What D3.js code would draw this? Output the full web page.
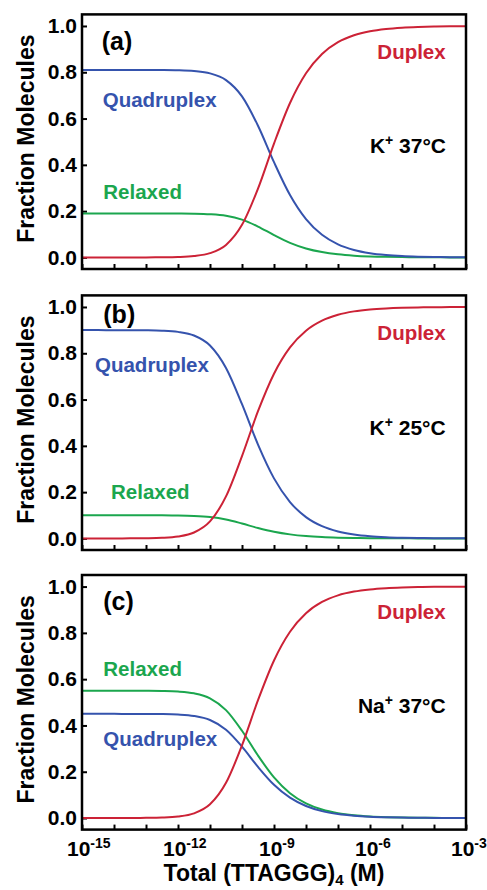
<!DOCTYPE html>
<html>
<head>
<meta charset="utf-8">
<script src="https://cdn.jsdelivr.net/npm/d3@7"></script>
<style>
  body { margin: 0; background: #fff; }
  svg text { font-family: "Liberation Sans", Arial, sans-serif; font-weight: bold; }
</style>
</head>
<body>
<div id="chart"></div>
<script>
// log10 of total (TTAGGG)4 concentration, M
const logConc = [-15, -14.5, -14, -13.5, -13, -12.5, -12, -11.5, -11, -10.5, -10, -9.5, -9,
                 -8.5, -8, -7.5, -7, -6.5, -6, -5.5, -5, -4.5, -4, -3.5, -3];

// (a) K+ 37°C
const duplexA  = [0, 0, 0, 0.0001, 0.0002, 0.0006, 0.0019, 0.0060, 0.0184, 0.0539, 0.1407, 0.2974, 0.4919,
                  0.6672, 0.7957, 0.8792, 0.9301, 0.9601, 0.9774, 0.9872, 0.9928, 0.9959, 0.9977, 0.9987, 0.9993];
const quadA    = [0.81, 0.81, 0.81, 0.81, 0.8098, 0.8095, 0.8085, 0.8051, 0.7951, 0.7663, 0.6960, 0.5691, 0.4116,
                  0.2696, 0.1655, 0.0978, 0.0566, 0.0323, 0.0183, 0.0104, 0.0058, 0.0033, 0.0019, 0.0011, 0.0006];
const relaxedA = [0.19, 0.19, 0.19, 0.19, 0.19, 0.1899, 0.1896, 0.1889, 0.1865, 0.1798, 0.1633, 0.1335, 0.0965,
                  0.0632, 0.0388, 0.0230, 0.0133, 0.0076, 0.0043, 0.0024, 0.0014, 0.0008, 0.0004, 0.0002, 0.0001];

// (b) K+ 25°C
const duplexB  = [0, 0, 0.0001, 0.0003, 0.0009, 0.0027, 0.0084, 0.0257, 0.0736, 0.1815, 0.3557, 0.5497, 0.7118,
                  0.8255, 0.8977, 0.9411, 0.9664, 0.9810, 0.9893, 0.9939, 0.9966, 0.9981, 0.9989, 0.9994, 0.9997];
const quadB    = [0.9, 0.9, 0.8999, 0.8997, 0.8992, 0.8976, 0.8924, 0.8769, 0.8338, 0.7367, 0.5799, 0.4053, 0.2594,
                  0.1571, 0.0921, 0.0530, 0.0302, 0.0171, 0.0096, 0.0055, 0.0031, 0.0017, 0.0010, 0.0005, 0.0003];
const relaxedB = [0.1, 0.1, 0.1, 0.1, 0.0999, 0.0997, 0.0992, 0.0974, 0.0926, 0.0819, 0.0644, 0.0450, 0.0288,
                  0.0175, 0.0102, 0.0059, 0.0034, 0.0019, 0.0011, 0.0006, 0.0003, 0.0002, 0.0001, 0.0001, 0];

// (c) Na+ 37°C
const duplexC  = [0, 0, 0.0001, 0.0002, 0.0007, 0.0021, 0.0066, 0.0203, 0.0592, 0.1520, 0.3143, 0.5092, 0.6808,
                  0.8049, 0.8849, 0.9335, 0.9621, 0.9785, 0.9878, 0.9931, 0.9961, 0.9978, 0.9988, 0.9993, 0.9996];
const quadC    = [0.45, 0.45, 0.45, 0.4499, 0.4497, 0.4491, 0.4470, 0.4409, 0.4234, 0.3816, 0.3086, 0.2209, 0.1436,
                  0.0878, 0.0518, 0.0299, 0.0171, 0.0097, 0.0055, 0.0031, 0.0018, 0.0010, 0.0005, 0.0003, 0.0002];
const relaxedC = [0.55, 0.55, 0.5499, 0.5499, 0.5496, 0.5488, 0.5464, 0.5388, 0.5174, 0.4664, 0.3771, 0.2699, 0.1756,
                  0.1073, 0.0633, 0.0366, 0.0208, 0.0118, 0.0067, 0.0038, 0.0021, 0.0012, 0.0007, 0.0004, 0.0002];

const yTicks = [0, 0.2, 0.4, 0.6, 0.8, 1.0];
const xTickExps = [-15, -14, -13, -12, -11, -10, -9, -8, -7, -6, -5, -4, -3];
const xLabelExps = [-15, -12, -9, -6, -3];
const panelLetters = ["(a)", "(b)", "(c)"];
const ions = ["K", "K", "Na"];
const temps = ["37°C", "25°C", "37°C"];

const colors = { duplex: "#cc2236", quad: "#3553ad", relaxed: "#1ba64e" };

const W = 487, H = 890;
const left = 82, right = 466;
const panelTops = [14.4, 295.4, 575];
const panelH = 254.6;

// label placement inside each panel (x px, y offset from panel top)
const labelPos = [
    { letter: [101.7, 35.6], duplex: [445.7, 44.9], quad: [102.7, 92.9], cond: [446, 138.9], relaxed: [103.3, 184.9] },
    { letter: [103.3, 27.9], duplex: [445.7, 44.6], quad: [95, 76.3], cond: [445.7, 139.6], relaxed: [111, 203.6] },
    { letter: [103.3, 34.8], duplex: [445.7, 44.3], quad: [103.3, 170.5], cond: [445.7, 138.3], relaxed: [103.3, 100.5] }
];

const panels = [
    { duplex: duplexA, quad: quadA, relaxed: relaxedA },
    { duplex: duplexB, quad: quadB, relaxed: relaxedB },
    { duplex: duplexC, quad: quadC, relaxed: relaxedC }
];

const svg = d3.select("#chart").append("svg")
    .attr("width", W)
    .attr("height", H);

const x = d3.scaleLog().domain([1e-15, 1e-3]).range([left, right]);

panels.forEach((p, i) => {
    const top = panelTops[i];
    const y = d3.scaleLinear().domain([-0.05, 1.05]).range([top + panelH, top]);
    const g = svg.append("g");

    // y axis (ticks point inward)
    g.append("g")
        .attr("transform", `translate(${left},0)`)
        .call(d3.axisLeft(y).tickValues(yTicks).tickSizeInner(-5).tickSizeOuter(0).tickPadding(5)
            .tickFormat(d3.format(".1f")))
        .call(a => a.select(".domain").remove())
        .call(a => a.selectAll("line").attr("stroke", "#000").attr("stroke-width", 2))
        .call(a => a.selectAll("text").attr("fill", "#000").attr("font-size", "21px")
            .attr("font-family", "Liberation Sans, Arial, sans-serif").attr("font-weight", "bold"));

    // x axis ticks
    g.append("g")
        .attr("transform", `translate(0,${top + panelH})`)
        .call(d3.axisBottom(x).tickValues(xTickExps.map(e => Math.pow(10, e)))
            .tickSizeInner(-5).tickSizeOuter(0).tickFormat(""))
        .call(a => a.select(".domain").remove())
        .call(a => a.selectAll("line").attr("stroke", "#000").attr("stroke-width", 2));

    // curves
    const line = series => d3.line()
        .x((d, j) => x(Math.pow(10, logConc[j])))
        .y(d => y(d))
        .curve(d3.curveMonotoneX)(series);

    [["relaxed", p.relaxed], ["quad", p.quad], ["duplex", p.duplex]].forEach(([k, s]) => {
        g.append("path")
            .attr("d", line(s))
            .attr("fill", "none")
            .attr("stroke", colors[k])
            .attr("stroke-width", 2);
    });

    // frame
    g.append("rect")
        .attr("x", left).attr("y", top)
        .attr("width", right - left).attr("height", panelH)
        .attr("fill", "none").attr("stroke", "#000").attr("stroke-width", 2.5);

    // y title
    g.append("text")
        .attr("transform", `translate(34,${top + panelH / 2 - 3}) rotate(-90)`)
        .attr("text-anchor", "middle")
        .attr("font-size", "23px")
        .text("Fraction Molecules");

    // in-panel labels
    const lp = labelPos[i];
    g.append("text").attr("x", lp.letter[0]).attr("y", top + lp.letter[1])
        .attr("font-size", "25px").text(panelLetters[i]);
    g.append("text").attr("x", lp.duplex[0]).attr("y", top + lp.duplex[1])
        .attr("text-anchor", "end").attr("font-size", "20.5px").attr("fill", colors.duplex).text("Duplex");
    g.append("text").attr("x", lp.quad[0]).attr("y", top + lp.quad[1])
        .attr("font-size", "20.5px").attr("fill", colors.quad).text("Quadruplex");
    g.append("text").attr("x", lp.relaxed[0]).attr("y", top + lp.relaxed[1])
        .attr("font-size", "20.5px").attr("fill", colors.relaxed).text("Relaxed");

    const cond = g.append("text").attr("x", lp.cond[0]).attr("y", top + lp.cond[1])
        .attr("text-anchor", "end").attr("font-size", "21px").attr("fill", "#000");
    cond.append("tspan").text(ions[i]);
    cond.append("tspan").attr("font-size", "14px").attr("dy", -8).text("+");
    cond.append("tspan").attr("dy", 8).text(" " + temps[i]);

    // x tick labels + title only on the bottom panel
    if (i === panels.length - 1) {
        xLabelExps.forEach(e => {
            const t = g.append("text")
                .attr("x", x(Math.pow(10, e)) - 15)
                .attr("y", 856)
                .attr("font-size", "21px");
            t.append("tspan").text("10");
            t.append("tspan").attr("font-size", "14px").attr("dy", -8).text(String(e));
        });
        const title = g.append("text")
            .attr("x", (left + right) / 2)
            .attr("y", 881)
            .attr("text-anchor", "middle")
            .attr("font-size", "23px");
        title.append("tspan").text("Total (TTAGGG)");
        title.append("tspan").attr("font-size", "15px").attr("dy", 4).text("4");
        title.append("tspan").attr("dy", -4).text(" (M)");
    }
});
</script>
</body>
</html>
